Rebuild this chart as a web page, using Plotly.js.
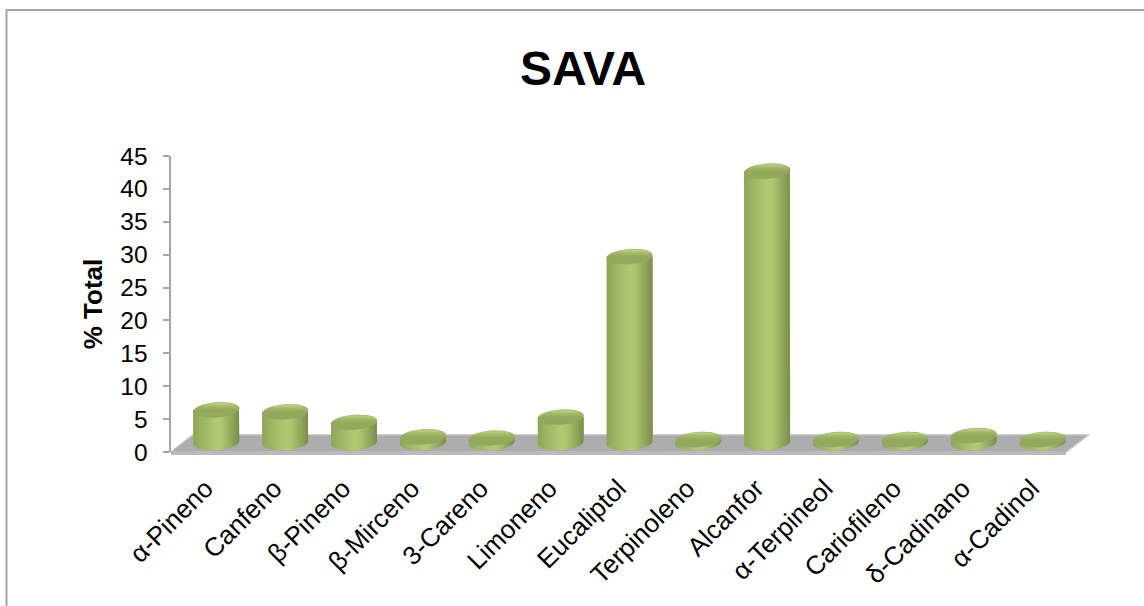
<!DOCTYPE html>
<html>
<head>
<meta charset="utf-8">
<script src="https://cdn.plot.ly/plotly-3.0.1.min.js"></script>
<style>html,body{margin:0;padding:0;background:#fff;overflow:hidden}</style>
</head>
<body>
<div id="chart" style="width:1144px;height:606px"></div>
<script>
// Composition of the SAVA essential oil, % of total
const compounds = ['α-Pineno','Canfeno','β-Pineno','β-Mirceno','3-Careno','Limoneno','Eucaliptol','Terpinoleno','Alcanfor','α-Terpineol','Cariofileno','δ-Cadinano','α-Cadinol'];
const percentTotal = [5.0, 4.7, 3.1, 0.9, 0.7, 3.9, 28.3, 0.5, 41.3, 0.5, 0.5, 1.1, 0.5];
const yTicks = [0,5,10,15,20,25,30,35,40,45];

const W = 1144, H = 606;
// Plot frame in pixels; the oblique floor is drawn by shifting a second pair of axes
const L = 171, R = 1066, B = 452, T = 156;
const depthX = 22, depthY = 17;
const shiftX = depthX / 2, shiftY = 9.2;
const pxPerCat = (R - L) / compounds.length;
const pxPerUnit = (B - T) / 45;
const below = 4; // extra value units under zero so the lower rim stays inside the axes

const radiusX = 23, radiusY = 7.5, tilt = -0.075;
const barWidth = 2 * radiusX / pxPerCat;

// Offset of a point on the tilted rim, in axis units
function rim(t) {
  const px = radiusX * Math.cos(t), py = radiusY * Math.sin(t);
  const rx = px * Math.cos(tilt) - py * Math.sin(tilt);
  const ry = px * Math.sin(tilt) + py * Math.cos(tilt);
  return [rx / pxPerCat, -ry / pxPerUnit];
}
function arc(cx, cy, from, to, n) {
  const xs = [], ys = [];
  for (let i = 0; i <= n; i++) {
    const r = rim(from + (to - from) * i / n);
    xs.push(cx + r[0]); ys.push(cy + r[1]);
  }
  return [xs, ys];
}

const sideScale = [[0,'#8ea558'],[0.12,'#98af60'],[0.5,'#b1c973'],[0.62,'#aec670'],[0.85,'#8fa558'],[1,'#7a8d4c']];
const capScale = [[0,'#93a85c'],[0.5,'#93a95c'],[0.76,'#a5bc6a'],[0.9,'#b9d07d'],[1,'#adc470']];

const traces = [
  // Carries the visible value axes
  {type: 'scatter', mode: 'markers', x: compounds.map((_, i) => i), y: percentTotal,
   marker: {opacity: 0, size: 1}, hoverinfo: 'skip', showlegend: false},
  {type: 'bar', x: compounds.map((_, i) => i), y: percentTotal, width: barWidth,
   xaxis: 'x2', yaxis: 'y2', marker: {color: '#9fb665', line: {width: 0}},
   hoverinfo: 'skip', showlegend: false}
];

percentTotal.forEach((v, i) => {
  const lower = arc(i, 0, Math.PI, 0, 40);          // front of the foot, left to right
  const upper = arc(i, v, 0, -Math.PI, 40);         // back of the cap, right to left
  traces.push({
    type: 'scatter', mode: 'lines', xaxis: 'x2', yaxis: 'y2',
    x: lower[0].concat(upper[0]), y: lower[1].concat(upper[1]),
    fill: 'toself', line: {width: 0, color: 'rgba(0,0,0,0)'},
    fillgradient: {type: 'horizontal', colorscale: sideScale},
    hoverinfo: 'skip', showlegend: false
  });
  const cap = arc(i, v, 0, 2 * Math.PI, 80);
  traces.push({
    type: 'scatter', mode: 'lines', xaxis: 'x2', yaxis: 'y2',
    x: cap[0], y: cap[1],
    fill: 'toself', line: {width: 0.6, color: 'rgba(150,160,130,0.5)'},
    fillgradient: {type: 'vertical', colorscale: capScale},
    hoverinfo: 'skip', showlegend: false
  });
});

// Pixel coordinates to paper fractions
const px = x => x / W;
const py = y => 1 - y / H;
const paperPath = pts => 'M' + pts.map(p => px(p[0]) + ',' + py(p[1])).join('L') + 'Z';

const layout = {
  width: W, height: H,
  margin: {l: 0, r: 0, t: 0, b: 0},
  paper_bgcolor: '#fff', plot_bgcolor: 'rgba(0,0,0,0)',
  font: {family: '"Liberation Sans", Arial, sans-serif', color: '#000'},
  showlegend: false,
  title: {text: '<b>SAVA</b>', font: {size: 48, color: '#000'}, x: 583 / W, xanchor: 'center', y: 1 - 68 / H, yanchor: 'middle'},
  xaxis: {
    domain: [px(L), px(R)], range: [-0.5, compounds.length - 0.5],
    tickmode: 'array', tickvals: compounds.map((_, i) => i), ticktext: compounds,
    tickangle: -45, tickfont: {size: 26, color: '#000'}, ticks: '', showgrid: false, ticklabelstandoff: 15,
    zeroline: false, showline: false, anchor: 'y', automargin: false
  },
  yaxis: {
    domain: [py(B), py(T)], range: [0, 45], tickmode: 'array', tickvals: yTicks,
    tickfont: {size: 24.5, color: '#000'}, ticks: 'outside', ticklen: 6, tickwidth: 2, tickcolor: '#a6a6a6', ticklabelstandoff: 10,
    showgrid: false, zeroline: false, showline: true, linecolor: '#a6a6a6', linewidth: 2.5,
    anchor: 'x', automargin: false,
    title: {text: '<b>% Total</b>', font: {size: 26, color: '#000'}, standoff: 10}
  },
  xaxis2: {
    domain: [px(L + shiftX), px(R + shiftX)], range: [-0.5, compounds.length - 0.5],
    visible: false, anchor: 'y2'
  },
  yaxis2: {
    domain: [py(B - shiftY + below * pxPerUnit), py(T - shiftY)], range: [-below, 45],
    visible: false, anchor: 'x2'
  },
  bargap: 0,
  shapes: [
    // outer frame
    {type: 'line', xref: 'paper', yref: 'paper', x0: px(6.5), x1: px(6.5), y0: 0, y1: py(10), line: {color: '#a3a3a3', width: 2}, layer: 'below'},
    {type: 'line', xref: 'paper', yref: 'paper', x0: px(6), x1: 1, y0: py(10), y1: py(10), line: {color: '#a3a3a3', width: 2}, layer: 'below'},
    // floor of the chart and its front edge
    {type: 'path', xref: 'paper', yref: 'paper', path: paperPath([[L, B], [L + depthX, B - depthY], [R + depthX, B - depthY], [R, B]]),
     fillcolor: '#adadad', line: {color: '#bdbdbd', width: 1.5}, layer: 'below'},
    {type: 'path', xref: 'paper', yref: 'paper', path: paperPath([[L, B], [R, B], [R, B + 3], [L, B + 3]]),
     fillcolor: '#bababa', line: {width: 0}, layer: 'below'}
  ]
};

Plotly.newPlot('chart', traces, layout, {staticPlot: true, displayModeBar: false});
</script>
</body>
</html>
